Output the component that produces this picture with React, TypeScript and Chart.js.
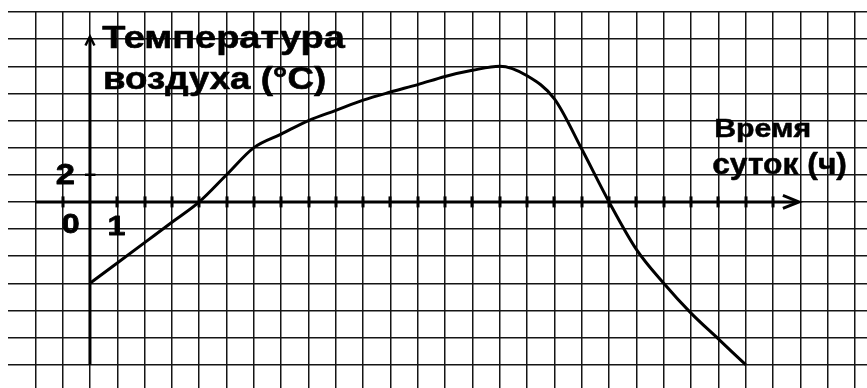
import { useEffect, useRef } from "react";
import { Chart, registerables } from "chart.js";

Chart.register(...registerables);

// ---- data ----
const hours = [0, 1, 2, 3, 4, 5, 6, 7, 8, 9, 10, 11, 12, 13, 14, 15, 16, 17, 18, 19, 20, 21, 22, 23, 24];
const temperatures = [-6, -4.5, -3, -1.5, 0, 2, 4, 5, 6, 6.75, 7.5, 8.1, 8.65, 9.25, 9.7, 10, 9.3, 7.6, 3.9, 0, -3.5, -6, -8.2, -10.1, -12];

const xTickLabels = [
  { hour: 0, text: "0" },
  { hour: 1, text: "1" },
];
const yTickLabels = [{ value: 2, text: "2" }];
const yAxisTitle = ["Температура", "воздуха (°C)"];
const xAxisTitle = ["Время", "суток (ч)"];

// grid: one cell = 1 hour horizontally, 2 °C vertically
const xGridFrom = -2;
const xGridTo = 28;
const yGridFrom = -12;
const yGridTo = 14;
const yGridStep = 2;

const FONT = '"Liberation Sans", Arial, Helvetica, sans-serif';

function paint(ctx: CanvasRenderingContext2D, text: string, weight: number) {
  ctx.fillText(text, 0, 0);
  if (weight > 0) {
    ctx.lineWidth = weight;
    ctx.lineJoin = "round";
    ctx.strokeText(text, 0, 0);
  }
}

function fitInk(ctx: CanvasRenderingContext2D, text: string, left: number, right: number, baseline: number, size: number, weight = 0.6) {
  ctx.font = `bold ${size}px ${FONT}`;
  const m = ctx.measureText(text);
  const ink = m.actualBoundingBoxLeft + m.actualBoundingBoxRight + weight;
  const s = (right - left) / ink;
  ctx.save();
  ctx.translate(left + (m.actualBoundingBoxLeft + weight / 2) * s, baseline);
  ctx.scale(s, 1);
  ctx.textAlign = "left";
  ctx.textBaseline = "alphabetic";
  paint(ctx, text, weight);
  ctx.restore();
}

function centerInk(ctx: CanvasRenderingContext2D, text: string, cx: number, baseline: number, size: number, sx: number, weight = 0.6) {
  ctx.font = `bold ${size}px ${FONT}`;
  const m = ctx.measureText(text);
  const inkCenter = (m.actualBoundingBoxRight - m.actualBoundingBoxLeft) / 2;
  ctx.save();
  ctx.translate(cx - inkCenter * sx, baseline);
  ctx.scale(sx, 1);
  ctx.textAlign = "left";
  ctx.textBaseline = "alphabetic";
  paint(ctx, text, weight);
  ctx.restore();
}

const overlay = {
  id: "overlay",
  afterDatasetsDraw(chart: any) {
    const ctx: CanvasRenderingContext2D = chart.ctx;
    const xs = chart.scales.x;
    const ys = chart.scales.y;
    const px = (v: number) => xs.getPixelForValue(v);
    const py = (v: number) => ys.getPixelForValue(v);
    const x0 = px(0);
    const y0 = py(0);
    ctx.save();
    ctx.strokeStyle = "#000";
    ctx.fillStyle = "#000";
    ctx.lineCap = "butt";
    ctx.lineJoin = "miter";

    // x axis
    const xEnd = px(25.95);
    ctx.lineWidth = 3;
    ctx.beginPath();
    ctx.moveTo(px(-2), y0);
    ctx.lineTo(xEnd - 1, y0);
    ctx.stroke();
    ctx.beginPath();
    ctx.moveTo(xEnd - 16, y0 - 6.5);
    ctx.lineTo(xEnd, y0);
    ctx.lineTo(xEnd - 16, y0 + 6.5);
    ctx.stroke();
    // x ticks
    for (let h = -1; h <= 25; h++) {
      if (h === 0) continue;
      ctx.fillRect(Math.round(px(h)) - 1.5, y0 - 5.5, 3, 11);
    }

    // y axis
    const yTop = py(12.2);
    ctx.lineWidth = 3;
    ctx.beginPath();
    ctx.moveTo(x0, py(-12));
    ctx.lineTo(x0, yTop + 2);
    ctx.stroke();
    ctx.lineWidth = 2.4;
    ctx.beginPath();
    ctx.moveTo(x0 - 4.5, yTop + 9);
    ctx.lineTo(x0, yTop);
    ctx.lineTo(x0 + 4.5, yTop + 9);
    ctx.stroke();
    // y tick at 2
    ctx.lineWidth = 2.5;
    ctx.beginPath();
    ctx.moveTo(x0 - 5, py(2));
    ctx.lineTo(x0 + 5.5, py(2));
    ctx.stroke();

    // tick labels
    yTickLabels.forEach((t) => centerInk(ctx, t.text, x0 - 24.5, py(t.value) + 9.5, 30, 1.15, 0.8));
    xTickLabels.forEach((t) => {
      if (t.hour === 0) centerInk(ctx, t.text, x0 - 19, y0 + 31, 28, 1.15, 0.8);
      else centerInk(ctx, t.text, px(t.hour) - 0.5, y0 + 33, 28, 1.15, 0.8);
    });

    // axis titles
    fitInk(ctx, yAxisTitle[0], 102, 346, 47.5, 31, 0.6);
    fitInk(ctx, yAxisTitle[1], 105, 325, 89, 31, 0.6);
    fitInk(ctx, xAxisTitle[0], 715, 810, 137, 26, 0.5);
    fitInk(ctx, xAxisTitle[1], 713, 846.5, 174, 29, 0.5);

    ctx.restore();
  },
};

export default function App() {
  const ref = useRef<HTMLCanvasElement | null>(null);
  useEffect(() => {
    if (!ref.current) return;
    const cellX = 27.32;
    const cellY = 27.13;
    const left = 8, top = 12, width = 867, height = 388;
    const xMin = -3.0;
    const xMax = xMin + (width - left) / cellX;
    const yMax = yGridTo;
    const yMin = yMax - (height - top) / (cellY / yGridStep);

    const xTicks: number[] = [];
    for (let h = xGridFrom; h <= xGridTo; h++) xTicks.push(h);
    const yTicks: number[] = [];
    for (let v = yGridFrom; v <= yGridTo; v += yGridStep) yTicks.push(v);

    const chart = new Chart(ref.current, {
      type: "line",
      data: {
        datasets: [
          {
            data: hours.map((h, i) => ({ x: h, y: temperatures[i] })),
            borderColor: "#000",
            borderWidth: 3,
            pointRadius: 0,
            fill: false,
            cubicInterpolationMode: "monotone",
          },
        ],
      },
      options: {
        responsive: false,
        animation: false,
        devicePixelRatio: 1,
        events: [],
        layout: { padding: { left, top, right: 0, bottom: 0 } },
        plugins: { legend: { display: false }, tooltip: { enabled: false } },
        scales: {
          x: {
            type: "linear",
            min: xMin,
            max: xMax,
            afterBuildTicks: (s: any) => {
              s.ticks = xTicks.map((v) => ({ value: v }));
            },
            ticks: { display: false },
            grid: { color: "#151515", lineWidth: 1.5, drawTicks: false },
            border: { display: false },
          },
          y: {
            type: "linear",
            min: yMin,
            max: yMax,
            afterBuildTicks: (s: any) => {
              s.ticks = yTicks.map((v) => ({ value: v }));
            },
            ticks: { display: false },
            grid: { color: "#151515", lineWidth: 1.5, drawTicks: false },
            border: { display: false },
          },
        },
      } as any,
      plugins: [overlay],
    });
    return () => chart.destroy();
  }, []);

  return (
    <div style={{ position: "absolute", left: 0, top: 0, width: 867, height: 388, background: "#fff" }}>
      <canvas ref={ref} width={867} height={388} style={{ display: "block", width: 867, height: 388 }} />
    </div>
  );
}
